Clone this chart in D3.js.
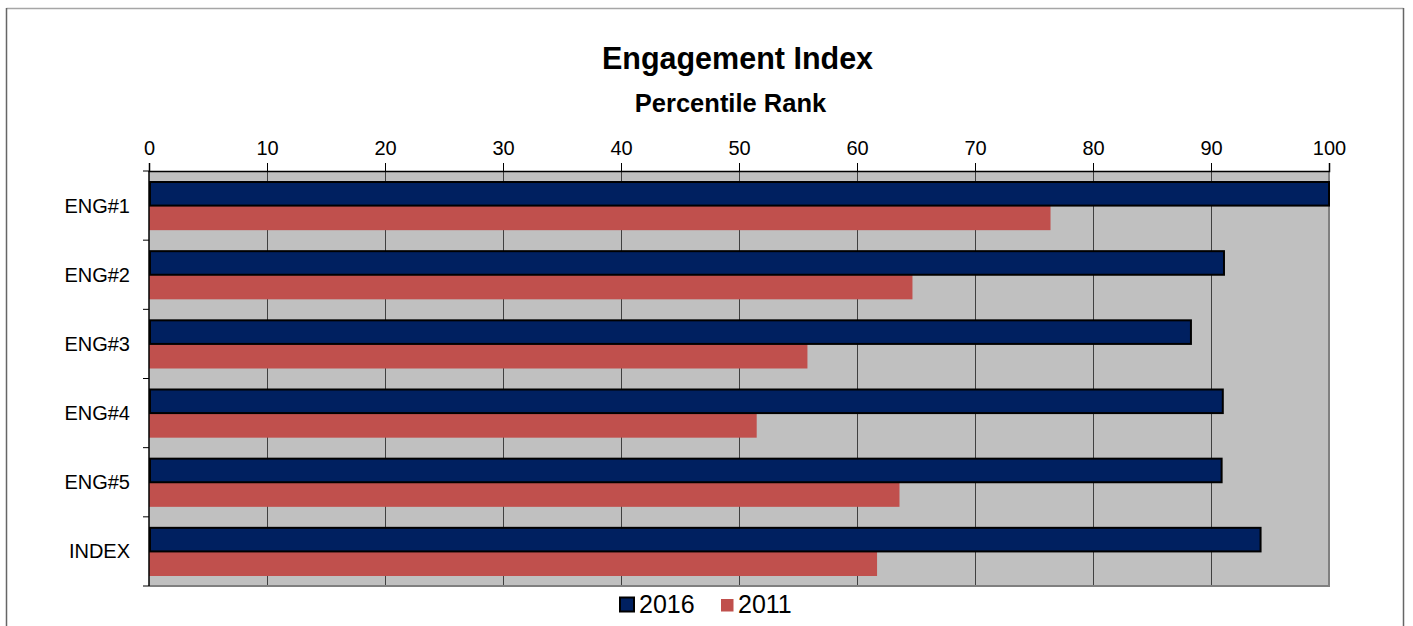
<!DOCTYPE html>
<html>
<head>
<meta charset="utf-8">
<script src="https://cdn.jsdelivr.net/npm/d3@7"></script>
<style>
  html, body { margin: 0; padding: 0; background: #ffffff; }
  svg { display: block; font-family: "Liberation Sans", Arial, sans-serif; }
</style>
</head>
<body>
<svg id="chart" width="1413" height="626"></svg>
<script>
// Categories and series values (percentile rank)
const categories = ["ENG#1", "ENG#2", "ENG#3", "ENG#4", "ENG#5", "INDEX"];
const seriesNames = ["2016", "2011"];
const values2016 = [100, 91.1, 88.3, 91.0, 90.9, 94.2];
const values2011 = [76.4, 64.7, 55.8, 51.5, 63.6, 61.7];
const xTicks = [0, 10, 20, 30, 40, 50, 60, 70, 80, 90, 100];

const colors = { "2016": "#002060", "2011": "#C0504D" };

const svg = d3.select("#chart");
const W = 1413, H = 626;
const plot = { left: 149, right: 1329, top: 171, bottom: 586 };

// Outer chart frame
svg.append("line").attr("x1", 6.5).attr("x2", 1403.5).attr("y1", 8.5).attr("y2", 8.5)
  .attr("stroke", "#a6a6a6").attr("stroke-width", 1.5);
svg.append("line").attr("x1", 6.5).attr("x2", 6.5).attr("y1", 8).attr("y2", H)
  .attr("stroke", "#666666").attr("stroke-width", 1.5);
svg.append("line").attr("x1", 1403.5).attr("x2", 1403.5).attr("y1", 8).attr("y2", H)
  .attr("stroke", "#666666").attr("stroke-width", 1.5);

// Titles
svg.append("text").attr("x", 737.5).attr("y", 69).attr("text-anchor", "middle")
  .attr("font-size", 30.5).attr("font-weight", "bold").attr("fill", "#000")
  .text("Engagement Index");
svg.append("text").attr("x", 730.5).attr("y", 112).attr("text-anchor", "middle")
  .attr("font-size", 25.5).attr("font-weight", "bold").attr("fill", "#000")
  .text("Percentile Rank");

// Scales
const x = d3.scaleLinear().domain([0, 100]).range([plot.left, plot.right]);
const y = d3.scaleBand().domain(categories).range([plot.top, plot.bottom]).padding(0);
const step = y.step();
const inner = d3.scaleBand().domain(seriesNames).range([10, step - 10]).padding(0);

// Plot area background
svg.append("rect").attr("x", plot.left).attr("y", plot.top)
  .attr("width", plot.right - plot.left).attr("height", plot.bottom - plot.top)
  .attr("fill", "#C0C0C0");

// Vertical gridlines
svg.append("g").selectAll("line").data(xTicks.slice(1, -1)).join("line")
  .attr("x1", d => Math.round(x(d)) + 0.5).attr("x2", d => Math.round(x(d)) + 0.5)
  .attr("y1", plot.top).attr("y2", plot.bottom)
  .attr("stroke", "#404040").attr("stroke-width", 1);

// Plot border on right and bottom
svg.append("line").attr("x1", plot.right).attr("x2", plot.right)
  .attr("y1", plot.top).attr("y2", plot.bottom + 1)
  .attr("stroke", "#808080").attr("stroke-width", 2);
svg.append("line").attr("x1", plot.left).attr("x2", plot.right + 1)
  .attr("y1", plot.bottom).attr("y2", plot.bottom)
  .attr("stroke", "#808080").attr("stroke-width", 2);

// Bars
const rows = categories.map((c, i) => ({ cat: c, "2016": values2016[i], "2011": values2011[i] }));
const groups = svg.append("g").selectAll("g").data(rows).join("g")
  .attr("transform", d => `translate(0,${y(d.cat)})`);

groups.append("rect")
  .attr("x", x(0))
  .attr("y", inner("2011"))
  .attr("width", d => x(d["2011"]) - x(0))
  .attr("height", inner.bandwidth())
  .attr("fill", colors["2011"]);

groups.append("rect")
  .attr("x", x(0) + 1)
  .attr("y", inner("2016") + 1)
  .attr("width", d => x(d["2016"]) - x(0) - 1)
  .attr("height", inner.bandwidth() - 1)
  .attr("fill", colors["2016"])
  .attr("stroke", "#000").attr("stroke-width", 2);

// Top axis
const xAxis = d3.axisTop(x).tickValues(xTicks).tickSize(8).tickPadding(8);
const gx = svg.append("g").attr("transform", `translate(0,${plot.top})`).call(xAxis);
gx.select(".domain").attr("stroke", "#000").attr("stroke-width", 1.5);
gx.selectAll(".tick line").attr("stroke", "#000");
gx.selectAll(".tick text").attr("font-size", 20).attr("fill", "#000")
  .attr("font-family", "Liberation Sans, Arial, sans-serif");

// Left axis: line with tick marks at the category boundaries
svg.append("line").attr("x1", plot.left).attr("x2", plot.left)
  .attr("y1", plot.top).attr("y2", plot.bottom)
  .attr("stroke", "#000").attr("stroke-width", 1.5);
const boundaries = categories.map(c => y(c)).concat([plot.bottom]);
svg.append("g").selectAll("line").data(boundaries).join("line")
  .attr("x1", plot.left - 6).attr("x2", plot.left)
  .attr("y1", d => d).attr("y2", d => d)
  .attr("stroke", "#000").attr("stroke-width", 1);

svg.append("g").selectAll("text").data(categories).join("text")
  .attr("x", 130)
  .attr("y", d => y(d) + step / 2)
  .attr("dy", "0.35em")
  .attr("text-anchor", "end")
  .attr("font-size", 20).attr("fill", "#000")
  .text(d => d);

// Legend
const legend = svg.append("g");
const legendItems = [
  { name: "2016", sx: 620, tx: 639, stroke: "#000", size: 14 },
  { name: "2011", sx: 721, tx: 738, stroke: "none", size: 12.5 }
];
legend.selectAll("rect").data(legendItems).join("rect")
  .attr("x", d => d.sx).attr("y", d => d.name === "2016" ? 597.5 : 599)
  .attr("width", d => d.size).attr("height", d => d.size)
  .attr("fill", d => colors[d.name])
  .attr("stroke", d => d.stroke).attr("stroke-width", 2);
legend.selectAll("text").data(legendItems).join("text")
  .attr("x", d => d.tx).attr("y", 612.5)
  .attr("font-size", 25).attr("fill", "#000")
  .text(d => d.name);
</script>
</body>
</html>
